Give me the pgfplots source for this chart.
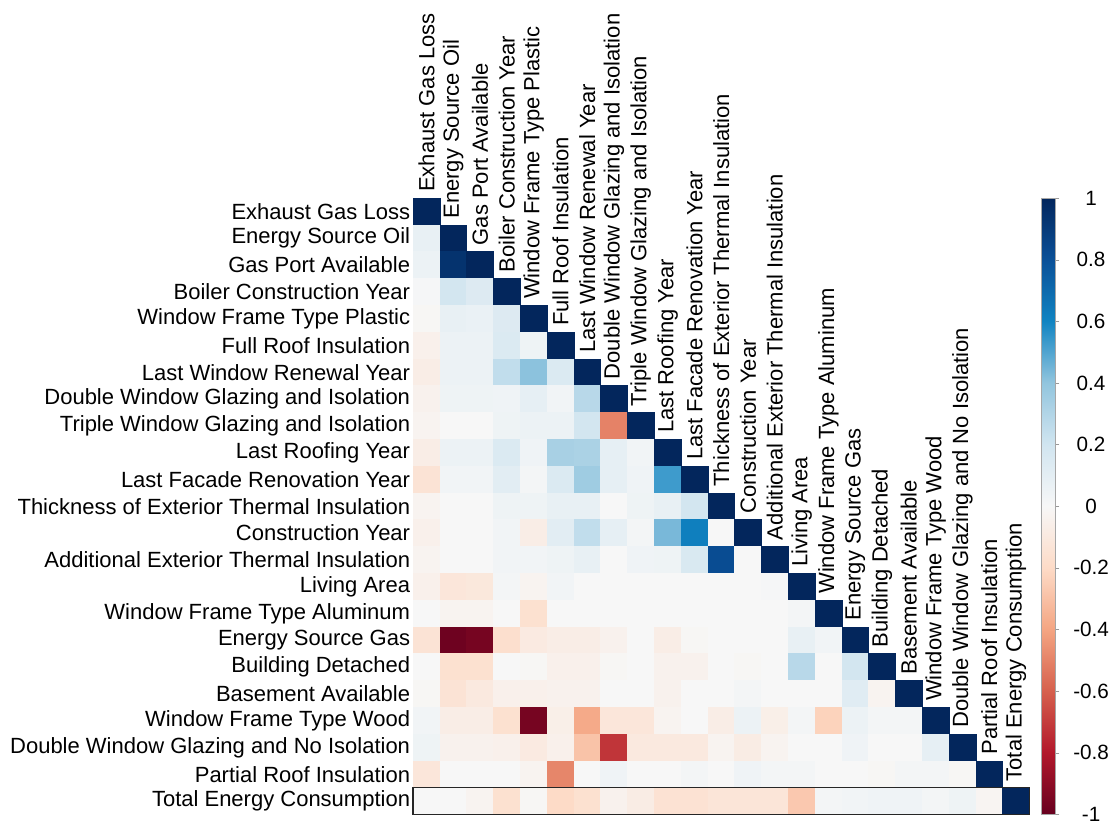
\documentclass[border=0pt]{standalone}
\usepackage{pgfplots}
\pgfplotsset{compat=1.18}
\usepackage{pgfplotstable}
\usepackage{fontspec}
\setmainfont{Liberation Sans}

% lower triangle of the correlation matrix: column x, row y, coefficient r
\pgfplotstableread{
x y r
1 1 1
1 2 0.08
2 2 1
1 3 0.06
2 3 0.94
3 3 1
1 4 0.01
2 4 0.19
3 4 0.14
4 4 1
1 5 -0.01
2 5 0.08
3 5 0.07
4 5 0.14
5 5 1
1 6 -0.05
2 6 0.06
3 6 0.06
4 6 0.15
5 6 0.05
6 6 1
1 7 -0.07
2 7 0.06
3 7 0.06
4 7 0.25
5 7 0.41
6 7 0.15
7 7 1
1 8 -0.04
2 8 0.05
3 8 0.05
4 8 0.04
5 8 0.09
6 8 0.03
7 8 0.28
8 8 1
1 9 -0.03
2 9 0
3 9 0
4 9 0.05
5 9 0.06
6 9 0.06
7 9 0.19
8 9 -0.5
9 9 1
1 10 -0.07
2 10 0.06
3 10 0.06
4 10 0.15
5 10 0.04
6 10 0.33
7 10 0.32
8 10 0.09
9 10 0.03
10 10 1
1 11 -0.14
2 11 0.03
3 11 0.03
4 11 0.11
5 11 0.02
6 11 0.15
7 11 0.36
8 11 0.09
9 11 0.04
10 11 0.53
11 11 1
1 12 -0.03
2 12 0
3 12 0
4 12 0.05
5 12 0.05
6 12 0.08
7 12 0.08
8 12 0
9 12 0.05
10 12 0.08
11 12 0.19
12 12 1
1 13 -0.05
2 13 0
3 13 0
4 13 0.03
5 13 -0.07
6 13 0.11
7 13 0.25
8 13 0.09
9 13 0.02
10 13 0.44
11 13 0.62
12 13 0
13 13 1
1 14 -0.03
2 14 0
3 14 0
4 14 0.03
5 14 0.03
6 14 0.05
7 14 0.08
8 14 0
9 14 0.04
10 14 0.05
11 14 0.16
12 14 0.82
13 14 0
14 14 1
1 15 -0.05
2 15 -0.12
3 15 -0.11
4 15 0.02
5 15 -0.03
6 15 0.03
7 15 0
8 15 0
9 15 0
10 15 0
11 15 0
12 15 0
13 15 0
14 15 0.01
15 15 1
1 16 0
2 16 -0.03
3 16 -0.03
4 16 0
5 16 -0.16
6 16 0
7 16 0
8 16 0
9 16 0
10 16 0
11 16 0
12 16 0
13 16 0
14 16 0
15 16 0.02
16 16 1
1 17 -0.14
2 17 -0.98
3 17 -0.96
4 17 -0.17
5 17 -0.09
6 17 -0.07
7 17 -0.07
8 17 -0.04
9 17 0
10 17 -0.07
11 17 -0.01
12 17 0
13 17 0
14 17 0
15 17 0.08
16 17 0.03
17 17 1
1 18 0
2 18 -0.16
3 18 -0.16
4 18 0
5 18 -0.01
6 18 -0.05
7 18 -0.05
8 18 -0.01
9 18 0
10 18 -0.04
11 18 -0.04
12 18 0
13 18 -0.01
14 18 0
15 18 0.28
16 18 0
17 18 0.19
18 18 1
1 19 -0.01
2 19 -0.14
3 19 -0.1
4 19 -0.05
5 19 -0.05
6 19 -0.04
7 19 -0.04
8 19 0
9 19 0
10 19 -0.04
11 19 0
12 19 0
13 19 0.02
14 19 0
15 19 0
16 19 0
17 19 0.12
18 19 -0.03
19 19 1
1 20 0.03
2 20 -0.07
3 20 -0.07
4 20 -0.16
5 20 -0.96
6 20 -0.06
7 20 -0.38
8 20 -0.12
9 20 -0.12
10 20 -0.03
11 20 0
12 20 -0.07
13 20 0.06
14 20 -0.06
15 20 0.02
16 20 -0.23
17 20 0.06
18 20 0.02
19 20 0.02
20 20 1
1 21 0.05
2 21 -0.04
3 21 -0.04
4 21 -0.05
5 21 -0.09
6 21 -0.05
7 21 -0.29
8 21 -0.72
9 21 -0.1
10 21 -0.1
11 21 -0.1
12 21 -0.03
13 21 -0.08
14 21 -0.03
15 21 0
16 21 0
17 21 0.04
18 21 0
19 21 0
20 21 0.09
21 21 1
1 22 -0.12
2 22 0
3 22 0
4 22 0
5 22 -0.03
6 22 -0.49
7 22 0
8 22 0.04
9 22 0
10 22 0
11 22 0.02
12 22 0
13 22 0.04
14 22 0.02
15 22 0.02
16 22 0
17 22 0
18 22 -0.01
19 22 0.02
20 22 0.02
21 22 -0.01
22 22 1
1 23 0
2 23 0
3 23 -0.03
4 23 -0.16
5 23 -0.01
6 23 -0.2
7 23 -0.16
8 23 -0.04
9 23 -0.08
10 23 -0.15
11 23 -0.15
12 23 -0.13
13 23 -0.13
14 23 -0.13
15 23 -0.27
16 23 0.02
17 23 0.03
18 23 0.04
19 23 0.04
20 23 0.02
21 23 0.05
22 23 -0.02
23 23 1
}\corr

\newcommand{\lblfont}{\fontsize{16.5pt}{19pt}\selectfont}

\begin{document}
\begin{tikzpicture}
\useasboundingbox (-309.75pt,-7.2pt) rectangle (530.25pt,610.8pt);
\begin{axis}[
  at={(0,0)}, anchor=south west,
  scale only axis, width=462.3pt, height=462.3pt,
  xmin=0.5, xmax=23.5, ymin=0.5, ymax=23.5, y dir=reverse,
  axis line style={draw=none},
  xtick=\empty,
  ytick={1,...,23},
  yticklabels={Exhaust Gas Loss, Energy Source Oil, Gas Port Available,
    Boiler Construction Year, Window Frame Type Plastic, Full Roof Insulation,
    Last Window Renewal Year, Double Window Glazing and Isolation,
    Triple Window Glazing and Isolation, Last Roofing Year,
    Last Facade Renovation Year, Thickness of Exterior Thermal Insulation,
    Construction Year, Additional Exterior Thermal Insulation, Living Area,
    Window Frame Type Aluminum, Energy Source Gas, Building Detached,
    Basement Available, Window Frame Type Wood,
    Double Window Glazing and No Isolation, Partial Roof Insulation,
    Total Energy Consumption},
  yticklabel style={font=\lblfont, inner sep=0pt, anchor=east, xshift=-2pt},
  major tick length=0pt,
  clip=false,
  colormap={rdbu}{rgb255=(103,0,31) rgb255=(178,24,43) rgb255=(214,96,77)
    rgb255=(244,165,130) rgb255=(253,219,199) rgb255=(247,247,247)
    rgb255=(209,229,240) rgb255=(146,197,222) rgb255=(16,132,194)
    rgb255=(10,80,152) rgb255=(3,38,92)},
  point meta min=-1, point meta max=1,
  colorbar,
  colorbar style={
    at={(parent axis.north east)}, anchor=north west, xshift=0.5pt,
    width=10.5pt,
    axis line style={draw=gray!70},
    ytick={-1,-0.8,...,1},
    yticklabels={-1,-0.8,-0.6,-0.4,-0.2,0,0.2,0.4,0.6,0.8,1},
    yticklabel style={font=\fontsize{15.5pt}{18pt}\selectfont,
      text width=47pt, align=center, anchor=west, inner sep=0pt},
    ytick pos=right, yticklabel pos=right,
    major tick length=3pt, tick align=outside,
    ytick style={draw=gray!80},
  },
]
\addplot[scatter, only marks, mark=square*, mark size=10.05pt,
  scatter/use mapped color={draw=mapped color, fill=mapped color},
  point meta=explicit]
  table[x=x, y=y, meta=r] {\corr};

% corners of the target variable row, framed after the axis is done
\coordinate (rowSW) at (axis cs:0.5,23.5);
\coordinate (rowNE) at (axis cs:23.5,22.5);

% column labels, set upright above each diagonal cell
\begin{scope}[every node/.style={rotate=90, anchor=west, inner xsep=4.5pt, inner ysep=0pt, font=\lblfont}]
\node at (axis cs:1,0.5) {Exhaust Gas Loss};
\node at (axis cs:2,1.5) {Energy Source Oil};
\node at (axis cs:3,2.5) {Gas Port Available};
\node at (axis cs:4,3.5) {Boiler Construction Year};
\node at (axis cs:5,4.5) {Window Frame Type Plastic};
\node at (axis cs:6,5.5) {Full Roof Insulation};
\node at (axis cs:7,6.5) {Last Window Renewal Year};
\node at (axis cs:8,7.5) {Double Window Glazing and Isolation};
\node at (axis cs:9,8.5) {Triple Window Glazing and Isolation};
\node at (axis cs:10,9.5) {Last Roofing Year};
\node at (axis cs:11,10.5) {Last Facade Renovation Year};
\node at (axis cs:12,11.5) {Thickness of Exterior Thermal Insulation};
\node at (axis cs:13,12.5) {Construction Year};
\node at (axis cs:14,13.5) {Additional Exterior Thermal Insulation};
\node at (axis cs:15,14.5) {Living Area};
\node at (axis cs:16,15.5) {Window Frame Type Aluminum};
\node at (axis cs:17,16.5) {Energy Source Gas};
\node at (axis cs:18,17.5) {Building Detached};
\node at (axis cs:19,18.5) {Basement Available};
\node at (axis cs:20,19.5) {Window Frame Type Wood};
\node at (axis cs:21,20.5) {Double Window Glazing and No Isolation};
\node at (axis cs:22,21.5) {Partial Roof Insulation};
\node at (axis cs:23,22.5) {Total Energy Consumption};
\end{scope}
\end{axis}
\draw[line width=1.3pt, black!85] (rowSW) rectangle (rowNE);
\end{tikzpicture}
\end{document}
